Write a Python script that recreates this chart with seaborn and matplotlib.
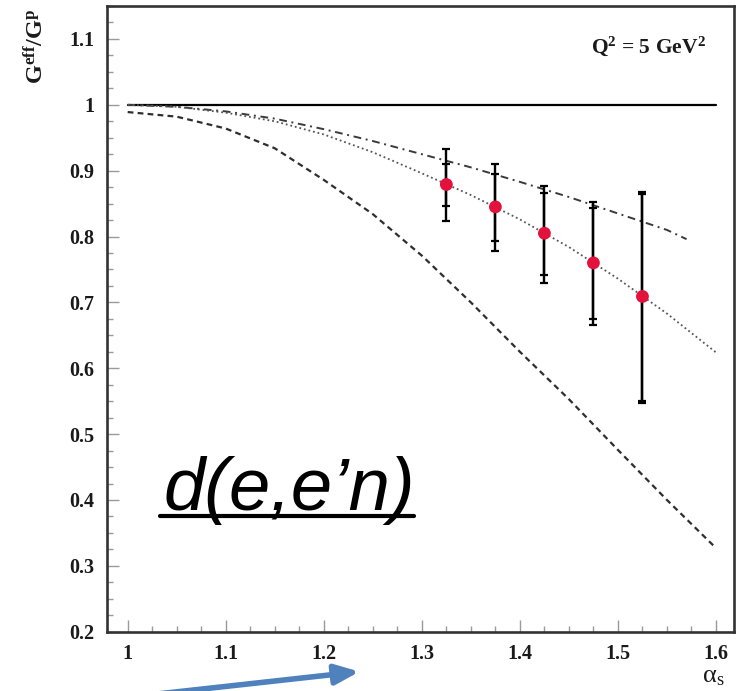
import matplotlib
matplotlib.use("Agg")
import matplotlib.pyplot as plt
from matplotlib.lines import Line2D
from matplotlib.ticker import MultipleLocator, FixedLocator
import seaborn as sns
import numpy as np
import pandas as pd

# ---------------- data ----------------
x_curve = [1.00, 1.05, 1.10, 1.15, 1.20, 1.25, 1.30, 1.35, 1.40, 1.45, 1.50, 1.55, 1.60]
dotted_y = [1.000, 0.997, 0.988, 0.975, 0.955, 0.928, 0.896, 0.863, 0.826, 0.784, 0.736, 0.683, 0.624]
dashed_y = [0.989, 0.982, 0.964, 0.934, 0.886, 0.834, 0.771, 0.700, 0.625, 0.553, 0.476, 0.400, 0.327]
x_dashdot = [1.00, 1.05, 1.10, 1.15, 1.20, 1.25, 1.30, 1.35, 1.40, 1.45, 1.50, 1.55, 1.57]
dashdot_y = [1.000, 0.997, 0.990, 0.979, 0.963, 0.945, 0.925, 0.905, 0.883, 0.860, 0.835, 0.810, 0.796]
x_flat = [1.00, 1.60]
flat_y = [1.00, 1.00]

alpha_s = [1.325, 1.375, 1.425, 1.475, 1.525]
ratio = [0.879, 0.845, 0.805, 0.760, 0.709]
stat_lo = [0.847, 0.793, 0.741, 0.675, 0.551]
stat_hi = [0.910, 0.895, 0.866, 0.844, 0.865]
tot_lo = [0.824, 0.778, 0.729, 0.666, 0.548]
tot_hi = [0.933, 0.910, 0.877, 0.852, 0.868]

x_ticks = [1.0, 1.1, 1.2, 1.3, 1.4, 1.5, 1.6]
x_tick_labels = ["1", "1.1", "1.2", "1.3", "1.4", "1.5", "1.6"]
y_ticks = [0.2, 0.3, 0.4, 0.5, 0.6, 0.7, 0.8, 0.9, 1.0, 1.1]
y_tick_labels = ["0.2", "0.3", "0.4", "0.5", "0.6", "0.7", "0.8", "0.9", "1", "1.1"]

# ---------------- style ----------------
sns.set_theme(style="white")
plt.rcParams["font.family"] = ["Liberation Serif", "DejaVu Serif"]
plt.rcParams["mathtext.fontset"] = "custom"
plt.rcParams["mathtext.rm"] = "Liberation Serif"
plt.rcParams["mathtext.it"] = "Liberation Serif:italic"
plt.rcParams["mathtext.bf"] = "Liberation Serif:bold"

fig = plt.figure(figsize=(7.41, 6.91), dpi=100)
ax = fig.add_axes([0.144, 0.0858, 0.847, 0.9055])

line_col = "#2e2e2e"
sns.lineplot(x=x_flat, y=flat_y, ax=ax, color="black", lw=1.6, linestyle="-", zorder=2)
sns.lineplot(x=x_dashdot, y=dashdot_y, ax=ax, color="#3a3a3a", lw=1.4,
             linestyle=(0, (4, 2.4, 1, 2.4)), zorder=2)
sns.lineplot(x=x_curve, y=dotted_y, ax=ax, color="#555555", lw=1.3,
             linestyle=(0, (1, 1.6)), zorder=2)
sns.lineplot(x=x_curve, y=dashed_y, ax=ax, color=line_col, lw=1.6,
             linestyle=(0, (2.6, 1.9)), zorder=2)

# error bars (total and statistical)
a_r = np.array(ratio)
tot_err = [a_r - np.array(tot_lo), np.array(tot_hi) - a_r]
stat_err = [a_r - np.array(stat_lo), np.array(stat_hi) - a_r]
ax.errorbar(alpha_s, ratio, yerr=tot_err, fmt="none", ecolor="black",
            elinewidth=1.7, capsize=3.2, capthick=1.6, zorder=3)
ax.errorbar(alpha_s, ratio, yerr=stat_err, fmt="none", ecolor="black",
            elinewidth=1.7, capsize=3.2, capthick=1.6, zorder=3)
sns.scatterplot(x=alpha_s, y=ratio, ax=ax, color="#e3123c", s=85,
                edgecolor="none", zorder=4)

# axes
ax.set_xlim(0.9786, 1.6187)
ax.set_ylim(0.2, 1.15)
ax.xaxis.set_major_locator(FixedLocator(x_ticks))
ax.set_xticklabels(x_tick_labels)
ax.yaxis.set_major_locator(FixedLocator(y_ticks))
ax.set_yticklabels(y_tick_labels)
ax.xaxis.set_minor_locator(MultipleLocator(0.025))
ax.yaxis.set_minor_locator(MultipleLocator(0.025))
ax.tick_params(which="both", direction="in", bottom=True, left=True,
               top=False, right=False, color="#9a9a9a", width=1.0)
ax.tick_params(which="major", length=8.5)
ax.tick_params(which="minor", length=4)
ax.tick_params(axis="x", which="major", pad=9, labelsize=14.5)
ax.tick_params(axis="y", which="major", pad=9, labelsize=14.5)
for lab in ax.get_xticklabels() + ax.get_yticklabels():
    lab.set_fontweight("bold")
    lab.set_color("#1a1a1a")
for sp in ax.spines.values():
    sp.set_color("#333333")
    sp.set_linewidth(1.9)
ax.set_xlabel("")
ax.set_ylabel("")

# labels
ax.text(-0.112, 0.995, r"$\mathbf{G^{eff}/G^{p}}$", transform=ax.transAxes,
        rotation=90, ha="center", va="top", fontsize=17.5, color="#1a1a1a")
ax.text(0.966, -0.072, "\u03b1$_{\\mathrm{s}}$", transform=ax.transAxes,
        ha="center", va="center", fontsize=19, color="#1a1a1a")
ax.text(0.955, 0.925, r"$\mathbf{Q^{2}}$ = 5 GeV$\mathbf{^{2}}$", transform=ax.transAxes,
        ha="right", va="baseline", fontsize=15.5, fontweight="bold", color="#1a1a1a")

reac = ax.text(0.0897, 0.1945, "d(e,e\u2019n)", transform=ax.transAxes,
               ha="left", va="baseline", fontsize=53.5, style="italic",
               family=["Liberation Sans", "DejaVu Sans"], color="black")

fig.canvas.draw()
bb = reac.get_window_extent()
base_px = ax.transAxes.transform((0.0897, 0.1945))[1]
W, H = fig.get_size_inches() * fig.dpi
uy = (base_px - 6) / H
fig.add_artist(Line2D([(bb.x0 - 3) / W, (bb.x1 - 1) / W], [uy, uy],
                      transform=fig.transFigure, color="black", lw=3))

# blue arrow
ax.annotate("", xy=(0.485, 0.028), xycoords="figure fraction",
            xytext=(0.215, -0.004), textcoords="figure fraction",
            arrowprops=dict(arrowstyle="-|>,head_length=1.2,head_width=0.5",
                            lw=4, color="#4f81bd", shrinkA=0, shrinkB=0),
            annotation_clip=False)

fig.savefig("out.png", dpi=100)
